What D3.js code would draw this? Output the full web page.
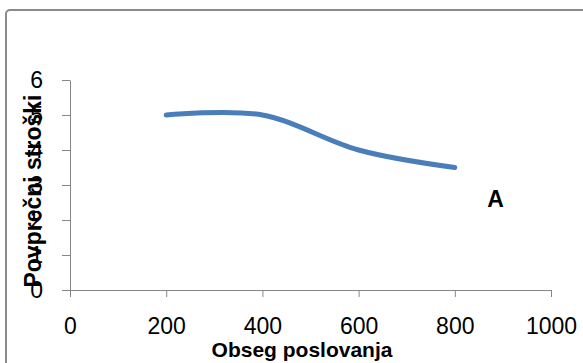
<!DOCTYPE html>
<html>
<head>
<meta charset="utf-8">
<script src="https://cdn.jsdelivr.net/npm/d3@7"></script>
<style>
  body { margin: 0; background: #fff; }
  svg { display: block; font-family: "Liberation Sans", Arial, sans-serif; }
</style>
</head>
<body>
<svg id="chart"></svg>
<script>
// data
const obseg = [200, 400, 600, 800];
const stroski = [5, 5, 4, 3.5];
const xTicks = [0, 200, 400, 600, 800, 1000];
const yTicks = [0, 1, 2, 3, 4, 5, 6];
const seriesLabel = { text: "A", x: 885, y: 2.38 };

const width = 583;
const height = 363;
const margin = { top: 80, right: 32, bottom: 73, left: 70 };
const axisColor = "#868686";

const svg = d3.select("#chart").attr("width", width).attr("height", height);

// outer chart frame (runs off the right and bottom edges)
svg.append("rect")
  .attr("x", 6).attr("y", 10)
  .attr("width", 600).attr("height", 400)
  .attr("rx", 4)
  .attr("fill", "#fff")
  .attr("stroke", "#8a8a8a")
  .attr("stroke-width", 2);

const x = d3.scaleLinear().domain([0, 1000]).range([margin.left, width - margin.right]);
const y = d3.scaleLinear().domain([0, 6]).range([height - margin.bottom, margin.top]);

// x axis
const gx = svg.append("g")
  .attr("transform", `translate(0,${y(0)})`)
  .call(d3.axisBottom(x).tickValues(xTicks).tickFormat(d3.format("d"))
    .tickSize(7).tickPadding(21).tickSizeOuter(0));
gx.select(".domain").attr("stroke", axisColor);
gx.selectAll(".tick line").attr("stroke", axisColor);
gx.selectAll(".tick text").attr("font-size", 23).attr("fill", "#000")
  .attr("font-family", "Liberation Sans, Arial, sans-serif");

// y axis
const gy = svg.append("g")
  .attr("transform", `translate(${x(0)},0)`)
  .call(d3.axisLeft(y).tickValues(yTicks).tickFormat(d3.format("d"))
    .tickSize(8).tickPadding(19).tickSizeOuter(0));
gy.select(".domain").attr("stroke", axisColor);
gy.selectAll(".tick line").attr("stroke", axisColor);
gy.selectAll(".tick text").attr("font-size", 23).attr("fill", "#000")
  .attr("font-family", "Liberation Sans, Arial, sans-serif");

// series line, smoothed like the spreadsheet
const line = d3.line()
  .x((d, i) => x(obseg[i]))
  .y(d => y(d))
  .curve(d3.curveCardinal.tension(0));

svg.append("path")
  .datum(stroski)
  .attr("d", line)
  .attr("fill", "none")
  .attr("stroke", "#4a7ebb")
  .attr("stroke-width", 5)
  .attr("stroke-linecap", "round");

// series label
svg.append("text")
  .attr("x", x(seriesLabel.x))
  .attr("y", y(seriesLabel.y))
  .attr("text-anchor", "middle")
  .attr("font-size", 23)
  .attr("font-weight", "bold")
  .text(seriesLabel.text);

// axis titles
svg.append("text")
  .attr("x", 302)
  .attr("y", 357)
  .attr("text-anchor", "middle")
  .attr("font-size", 21)
  .attr("font-weight", "bold")
  .text("Obseg poslovanja");

svg.append("text")
  .attr("transform", `translate(41,191) rotate(-90)`)
  .attr("text-anchor", "middle")
  .attr("font-size", 23)
  .attr("font-weight", "bold")
  .text("Povprečni stroški");
</script>
</body>
</html>
